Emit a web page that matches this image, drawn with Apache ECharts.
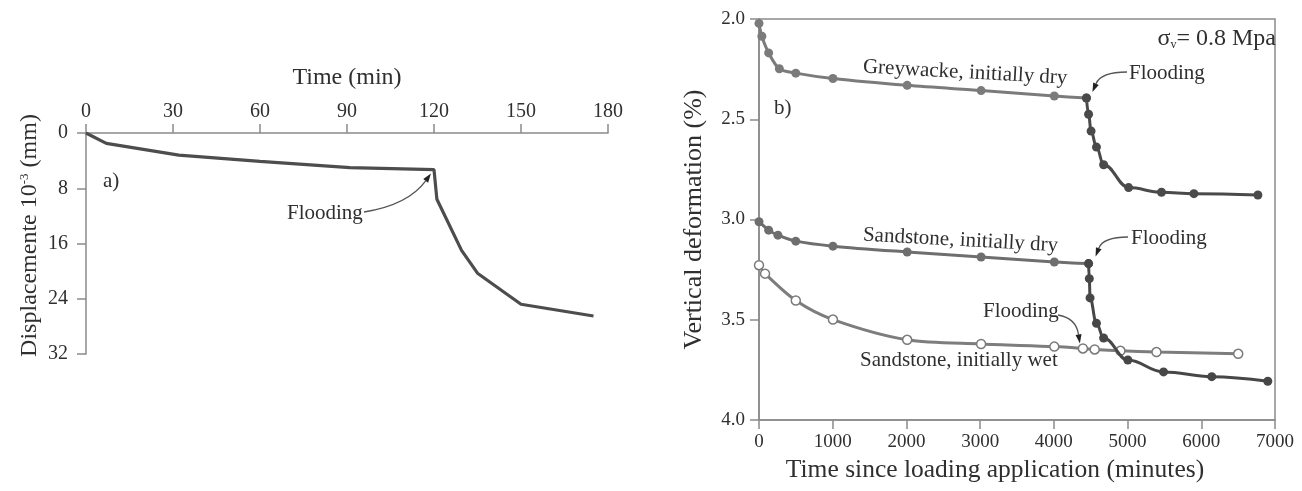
<!DOCTYPE html>
<html>
<head>
<meta charset="utf-8">
<script src="https://cdn.jsdelivr.net/npm/echarts@6/dist/echarts.min.js"></script>
<style>
  html, body { margin: 0; padding: 0; background: #fff; }
  #chart { width: 1302px; height: 491px; }
</style>
</head>
<body>
<div id="chart"></div>
<script>
// a) displacement vs time, flooded at 120 min
const leftTime = [0, 7, 32, 60, 91, 120, 121, 129.5, 135, 150, 175]
const leftDisp = [0, 1.5, 3.2, 4.1, 5.0, 5.3, 9.6, 17, 20.3, 24.8, 26.5]
const leftFloodIdx = 5

// b) vertical deformation vs time since loading
const greyTime = [0, 39, 131, 276, 499, 1003, 2010, 3013, 4006, 4442, 4471, 4505, 4578, 4675, 5014, 5460, 5900, 6768]
const greyDef = [2.022, 2.086, 2.169, 2.248, 2.270, 2.297, 2.331, 2.357, 2.384, 2.394, 2.475, 2.559, 2.639, 2.727, 2.841, 2.864, 2.871, 2.878]
const greyFloodIdx = 9

const sandDryTime = [0, 131, 257, 499, 1003, 2010, 3013, 4006, 4471, 4481, 4491, 4578, 4675, 5004, 5488, 6142, 6902]
const sandDryDef = [3.011, 3.053, 3.078, 3.108, 3.133, 3.162, 3.187, 3.212, 3.220, 3.295, 3.391, 3.518, 3.591, 3.701, 3.760, 3.784, 3.807]
const sandDryFloodIdx = 8

const sandWetTime = [0, 82, 499, 1003, 2010, 3013, 4006, 4394, 4554, 4903, 5392, 6501]
const sandWetDef = [3.228, 3.270, 3.404, 3.499, 3.600, 3.621, 3.634, 3.643, 3.648, 3.655, 3.661, 3.670]
const sandWetFloodIdx = 7

const FONT = "'Liberation Serif', 'Times New Roman', serif"
const AXIS = '#8a8a8a'
const TXT = '#2f2f2f'

const pairs = (xs, ys, from, to) => xs.slice(from, to).map((x, i) => [x, ys[from + i]])

const chart = echarts.init(document.getElementById('chart'))

const axisCommon = {
  axisLine: { show: true, lineStyle: { color: AXIS, width: 1.5 } },
  axisTick: { show: true, inside: false, length: 9, lineStyle: { color: AXIS, width: 1.5 } },
  splitLine: { show: false },
  nameLocation: 'middle',
  nameTextStyle: { color: TXT, fontFamily: FONT, fontSize: 24 }
}

chart.setOption({
  animation: false,
  grid: [
    { left: 86, top: 133, width: 522, height: 221, show: false },
    { left: 759, top: 19, width: 516, height: 401, show: true, borderColor: AXIS, borderWidth: 1.5, backgroundColor: 'transparent' }
  ],
  xAxis: [
    {
      ...axisCommon, gridIndex: 0, type: 'value', position: 'top',
      min: 0, max: 180, interval: 30,
      name: 'Time (min)', nameGap: 43,
      axisLabel: { color: TXT, fontFamily: FONT, fontSize: 20, margin: 11 }
    },
    {
      ...axisCommon, gridIndex: 1, type: 'value', position: 'bottom',
      min: 0, max: 7000, interval: 1000,
      name: 'Time since loading application (minutes)', nameGap: 34,
      nameTextStyle: { color: TXT, fontFamily: FONT, fontSize: 25.5, padding: [0, 44, 0, 0] },
      axisLabel: { color: TXT, fontFamily: FONT, fontSize: 19, margin: 13, formatter: v => String(v) }
    }
  ],
  yAxis: [
    {
      ...axisCommon, gridIndex: 0, type: 'value', inverse: true,
      min: 0, max: 32, interval: 8,
      name: '{t|Displacemente 10}{s|-3}{t| (mm)}', nameGap: 44,
      nameTextStyle: {
        color: TXT, fontFamily: FONT, fontSize: 24, padding: [0, 0, 0, 16],
        rich: {
          t: { color: TXT, fontFamily: FONT, fontSize: 24 },
          s: { color: TXT, fontFamily: FONT, fontSize: 13, verticalAlign: 'top', lineHeight: 24 }
        }
      },
      axisLabel: { color: TXT, fontFamily: FONT, fontSize: 20, margin: 18 }
    },
    {
      ...axisCommon, gridIndex: 1, type: 'value', inverse: true,
      min: 2, max: 4, interval: 0.5,
      name: 'Vertical deformation (%)', nameGap: 52,
      nameTextStyle: { color: TXT, fontFamily: FONT, fontSize: 26 },
      axisLabel: { color: TXT, fontFamily: FONT, fontSize: 19, margin: 14, formatter: v => v.toFixed(1) }
    }
  ],
  series: [
    {
      type: 'line', xAxisIndex: 0, yAxisIndex: 0,
      data: pairs(leftTime, leftDisp, 0, leftTime.length),
      showSymbol: false, lineStyle: { color: '#4d4d4d', width: 3.2 }
    },
    {
      type: 'line', xAxisIndex: 1, yAxisIndex: 1, z: 2,
      data: pairs(sandWetTime, sandWetDef, 0, sandWetTime.length),
      smooth: 0.3,
      symbol: 'circle', symbolSize: 9,
      itemStyle: { color: '#fff', borderColor: '#7a7a7a', borderWidth: 1.5 },
      lineStyle: { color: '#7d7d7d', width: 3 }
    },
    {
      type: 'line', xAxisIndex: 1, yAxisIndex: 1, z: 3,
      data: pairs(greyTime, greyDef, 0, greyFloodIdx + 1),
      smooth: 0.3,
      symbol: 'circle', symbolSize: 9,
      itemStyle: { color: '#7b7b7b' },
      lineStyle: { color: '#7b7b7b', width: 3 }
    },
    {
      type: 'line', xAxisIndex: 1, yAxisIndex: 1, z: 3,
      data: pairs(greyTime, greyDef, greyFloodIdx, greyTime.length),
      smooth: 0.4, smoothMonotone: 'x',
      symbol: 'circle', symbolSize: 9,
      itemStyle: { color: '#4a4a4a' },
      lineStyle: { color: '#4a4a4a', width: 3 }
    },
    {
      type: 'line', xAxisIndex: 1, yAxisIndex: 1, z: 3,
      data: pairs(sandDryTime, sandDryDef, 0, sandDryFloodIdx + 1),
      smooth: 0.3,
      symbol: 'circle', symbolSize: 9,
      itemStyle: { color: '#6e6e6e' },
      lineStyle: { color: '#6e6e6e', width: 3 }
    },
    {
      type: 'line', xAxisIndex: 1, yAxisIndex: 1, z: 4,
      data: pairs(sandDryTime, sandDryDef, sandDryFloodIdx, sandDryTime.length),
      smooth: 0.4, smoothMonotone: 'x',
      symbol: 'circle', symbolSize: 9,
      itemStyle: { color: '#474747' },
      lineStyle: { color: '#474747', width: 3 }
    }
  ]
})

// annotation arrows: quadratic curve + small head
function arrow(from, ctrl, to) {
  const ang = Math.atan2(to[1] - ctrl[1], to[0] - ctrl[0])
  const L = 9, W = 3
  const bx = to[0] - L * Math.cos(ang), by = to[1] - L * Math.sin(ang)
  const px = -Math.sin(ang) * W, py = Math.cos(ang) * W
  return [
    {
      type: 'bezierCurve',
      shape: { x1: from[0], y1: from[1], x2: bx, y2: by, cpx1: ctrl[0], cpy1: ctrl[1] },
      style: { stroke: '#555', lineWidth: 1.3, fill: null }
    },
    {
      type: 'polygon',
      shape: { points: [to, [bx + px, by + py], [bx - px, by - py]] },
      style: { fill: '#222' }
    }
  ]
}

function label(text, x, y, opts) {
  return {
    type: 'text', x, y, rotation: (opts && opts.rot) || 0,
    style: Object.assign({
      text, fill: TXT, font: `${(opts && opts.size) || 21}px ${FONT}`,
      align: (opts && opts.align) || 'left', verticalAlign: 'middle'
    }, (opts && opts.style) || {})
  }
}

const px = (g, x, y) => chart.convertToPixel({ gridIndex: g }, [x, y])
const pL = px(0, leftTime[leftFloodIdx], leftDisp[leftFloodIdx])
const pG = px(1, greyTime[greyFloodIdx], greyDef[greyFloodIdx])
const pS = px(1, sandDryTime[sandDryFloodIdx], sandDryDef[sandDryFloodIdx])
const pW = px(1, sandWetTime[sandWetFloodIdx], sandWetDef[sandWetFloodIdx])

const graphics = [
  label('a)', 103, 181, { size: 21 }),
  label('Flooding', 287, 213, { size: 21 }),
  ...arrow([364, 212], [408, 205], [pL[0] - 3, pL[1] + 4]),

  label('b)', 774, 108, { size: 21 }),
  {
    type: 'text', x: 1276, y: 39,
    style: {
      text: '{a|σ}{b|v}{a|= 0.8 Mpa}', align: 'right', verticalAlign: 'middle',
      rich: {
        a: { fill: TXT, fontFamily: FONT, fontSize: 24 },
        b: { fill: TXT, fontFamily: FONT, fontSize: 12, verticalAlign: 'bottom', lineHeight: 22 }
      }
    }
  },
  label('Greywacke, initially dry', 863, 67, { size: 21, rot: -0.055 }),
  label('Flooding', 1129, 73, { size: 21 }),
  ...arrow([1127, 72], [1101, 72], [pG[0] + 6, pG[1] - 6]),

  label('Sandstone, initially dry', 863, 235, { size: 21, rot: -0.055 }),
  label('Flooding', 1131, 238, { size: 21 }),
  ...arrow([1128, 237], [1103, 237], [pS[0] + 7, pS[1] - 7]),

  label('Flooding', 983, 311, { size: 21 }),
  ...arrow([1058, 315], [1076, 318], [pW[0] - 3, pW[1] - 5]),
  label('Sandstone, initially wet', 860, 360, { size: 21 })
]

chart.setOption({ graphic: graphics })
</script>
</body>
</html>
